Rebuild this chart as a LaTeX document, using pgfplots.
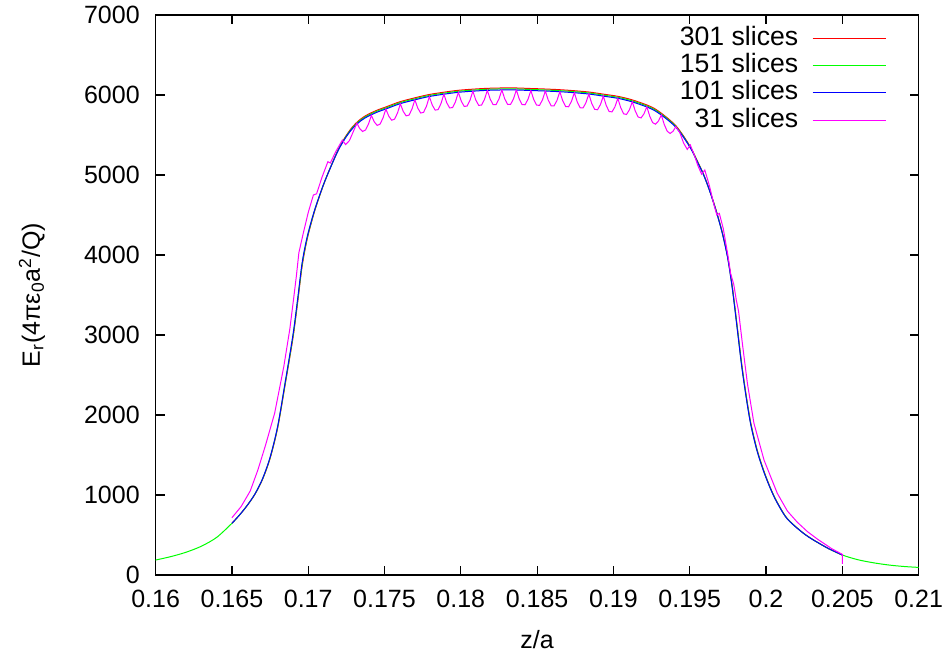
\documentclass[border=0pt]{standalone}
\usepackage{pgfplots}
\usepackage{pgfplotstable}
\pgfplotsset{compat=1.18}
\usepackage{fontspec}
\setmainfont{Liberation Sans}

\pgfplotstableread{
x b g r
0.1600 nan 187 nan
0.1610 nan 230 nan
0.1620 nan 285 nan
0.1630 nan 360 nan
0.1640 nan 470 nan
0.1650 646 646 646
0.1655 750 750 750
0.1660 870 869 868
0.1665 1010 1008 1006
0.1670 1200 1196 1192
0.1675 1470 1463 1456
0.1680 1860 1850 1840
0.1685 2420 2405 2392
0.1690 3000 2980 2962
0.1693 3437 3415 3395
0.1696 3900 3878 3858
0.1699 4200 4184 4170
0.1702 4420 4409 4400
0.1705 4610 4603 4597
0.1710 4880 4878 4876
0.1715 5110 5112 5114
0.1720 5320 5326 5331
0.1725 5480 5489 5497
0.1729 5580 5591 5601
0.1733 5655 5667 5678
0.1737 5710 5722 5734
0.1741 5750 5763 5775
0.1746 5792 5805 5817
0.1751 5826 5839 5851
0.1760 5890 5903 5915
0.1770 5940 5953 5965
0.1779 5980 5993 6005
0.1789 6010 6023 6035
0.1798 6033 6046 6058
0.1808 6048 6061 6073
0.1817 6058 6071 6083
0.1827 6063 6076 6088
0.1836 6063 6076 6088
0.1846 6056 6069 6081
0.1855 6050 6063 6075
0.1865 6041 6054 6066
0.1874 6029 6042 6054
0.1884 6012 6025 6037
0.1893 5987 6000 6012
0.1903 5958 5971 5983
0.1912 5916 5929 5941
0.1922 5850 5863 5875
0.1927 5805 5818 5830
0.1931 5755 5767 5778
0.1936 5682 5693 5703
0.1941 5595 5605 5615
0.1946 5470 5478 5486
0.1951 5320 5326 5332
0.1955 5165 5170 5175
0.1959 5005 5009 5013
0.1963 4805 4808 4811
0.1967 4570 4574 4578
0.1970 4370 4375 4380
0.1972 4220 4226 4232
0.1975 3950 3958 3966
0.1978 3570 3581 3591
0.1981 3100 3114 3127
0.1984 2620 2635 2648
0.1987 2220 2234 2246
0.1990 1880 1892 1902
0.1994 1560 1569 1577
0.1998 1320 1327 1333
0.2002 1120 1125 1130
0.2006 950 954 958
0.2011 780 783 786
0.2014 700 702 704
0.2018 625 627 629
0.2022 560 561 562
0.2026 500 501 502
0.2030 450 451 452
0.2034 405 405 405
0.2041 330 330 330
0.2050 250 250 250
0.2060 nan 192 nan
0.2070 nan 154 nan
0.2080 nan 126 nan
0.2090 nan 107 nan
0.2100 nan 95 nan
}\tblS

\pgfplotstableread{
x m
0.1650 716
0.1656 854
0.1662 1050
0.1667 1312
0.1672 1620
0.1678 2021
0.1684 2604
0.1688 3080
0.16906 3479
0.16922 3729
0.16939 4030
0.16965 4250
0.17000 4530
0.17034 4750
0.17055 4765
0.17090 4970
0.17129 5166
0.17145 5150
0.17180 5290
0.17224 5437
0.17245 5380
0.17270 5430
0.17295 5540
0.17319 5648
0.17338 5579
0.17357 5544
0.17376 5563
0.17395 5637
0.17414 5745
0.17433 5664
0.17452 5620
0.17471 5636
0.17490 5712
0.17509 5825
0.17528 5735
0.17547 5685
0.17566 5698
0.17585 5774
0.17604 5890
0.17623 5794
0.17642 5739
0.17661 5749
0.17680 5824
0.17699 5940
0.17718 5836
0.17737 5775
0.17756 5783
0.17775 5860
0.17794 5980
0.17813 5874
0.17832 5811
0.17851 5817
0.17870 5892
0.17889 6010
0.17908 5903
0.17927 5838
0.17946 5843
0.17965 5916
0.17984 6033
0.18003 5924
0.18022 5858
0.18041 5861
0.18060 5933
0.18079 6048
0.18098 5938
0.18117 5871
0.18136 5873
0.18155 5944
0.18174 6058
0.18193 5947
0.18212 5879
0.18231 5880
0.18250 5950
0.18269 6063
0.18288 5951
0.18307 5882
0.18326 5882
0.18345 5951
0.18364 6063
0.18383 5950
0.18402 5879
0.18421 5878
0.18440 5945
0.18459 6056
0.18478 5943
0.18497 5873
0.18516 5871
0.18535 5939
0.18554 6050
0.18573 5936
0.18592 5865
0.18611 5864
0.18630 5931
0.18649 6041
0.18668 5927
0.18687 5855
0.18706 5853
0.18725 5919
0.18744 6029
0.18763 5914
0.18782 5841
0.18801 5838
0.18820 5903
0.18839 6012
0.18858 5895
0.18877 5821
0.18896 5816
0.18915 5880
0.18934 5987
0.18953 5869
0.18972 5794
0.18991 5789
0.19010 5852
0.19029 5958
0.19048 5841
0.19067 5765
0.19086 5757
0.19105 5815
0.19124 5916
0.19143 5801
0.19162 5725
0.19181 5713
0.19200 5763
0.19219 5854
0.19238 5736
0.19257 5655
0.19276 5635
0.19295 5674
0.19314 5750
0.19333 5633
0.19352 5549
0.19371 5519
0.19390 5545
0.19409 5604
0.19435 5530
0.19460 5400
0.19484 5320
0.19504 5375
0.19530 5250
0.19555 5110
0.19578 5010
0.19599 5062
0.19630 4860
0.19660 4620
0.19678 4500
0.19694 4521
0.19720 4330
0.19750 4000
0.19768 3771
0.19789 3630
0.19805 3440
0.19820 3300
0.19845 2896
0.19878 2396
0.19921 1896
0.19987 1437
0.20074 1021
0.20140 800
0.20205 660
0.20270 545
0.20336 450
0.20430 330
0.20500 258
0.20500 140
}\tblM

\definecolor{gpred}{RGB}{255,0,0}
\definecolor{gpgreen}{RGB}{0,255,0}
\definecolor{gpblue}{RGB}{0,0,255}
\definecolor{gpmag}{RGB}{255,0,255}

\begin{document}
\fontsize{12.5}{15}\selectfont
\begin{tikzpicture}[font=\fontsize{12.5}{15}\selectfont]
\begin{axis}[
  scale only axis,
  width=381.5pt, height=280pt,
  xmin=0.16, xmax=0.21, ymin=0, ymax=7000,
  xtick={0.16,0.165,0.17,0.175,0.18,0.185,0.19,0.195,0.2,0.205,0.21},
  xticklabels={0.16,0.165,0.17,0.175,0.18,0.185,0.19,0.195,0.2,0.205,0.21},
  ytick={0,1000,2000,3000,4000,5000,6000,7000},
  yticklabels={0,1000,2000,3000,4000,5000,6000,7000},
  tick align=inside, xtick pos=both, ytick pos=both,
  major tick length=4.5pt, minor tick num=0,
  tick style={black, line width=0.6pt},
  axis line style={black, line width=0.6pt},
  tick label style={font=\fontsize{12.5}{15}\selectfont},
  xticklabel style={yshift=-3.4pt},
  yticklabel style={xshift=-3.6pt},
  xlabel={z/a},
  ylabel={E\textsubscript{r}(4πε\textsubscript{0}a\textsuperscript{2}/Q)},
  label style={font=\fontsize{12.5}{15}\selectfont},
  xlabel style={at={(axis description cs:0.5,-0.116)}, anchor=center},
  ylabel style={at={(axis description cs:-0.162,0.5)}, anchor=center, rotate=0},
  legend cell align=right,
  legend plot pos=right,
  legend image code/.code={\draw[#1] (0pt,0pt) -- (36.5pt,0pt);},
  legend style={draw=none, fill=none, at={(axis description cs:1,1)}, anchor=north east,
    xshift=-16pt, yshift=-5pt, font=\fontsize{13.3}{15}\selectfont,
    row sep=0.6pt, column sep=6.5pt, inner sep=0pt,
    nodes={inner sep=0.5pt, text height=9.5pt, text depth=2.5pt}},
]
\addplot[gpred, line width=0.5pt, smooth] table[x=x, y=r] {\tblS};
\addlegendentry{301 slices}
\addplot[gpgreen, line width=0.5pt, smooth] table[x=x, y=g] {\tblS};
\addlegendentry{151 slices}
\addplot[gpblue, line width=0.5pt, smooth] table[x=x, y=b] {\tblS};
\addlegendentry{101 slices}
\addplot[gpmag, line width=0.5pt] table[x=x, y=m] {\tblM};
\addlegendentry{31 slices}
\end{axis}
\pgfresetboundingbox
\path[use as bounding box] ([xshift=-77.8pt,yshift=-41.5pt]current axis.south west) rectangle ([xshift=15.2pt,yshift=7.5pt]current axis.north east);
\end{tikzpicture}
\end{document}
